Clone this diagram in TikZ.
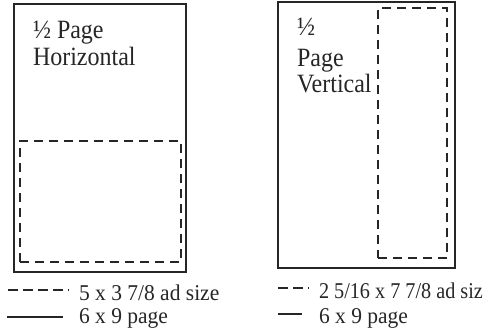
\documentclass[tikz,border=0pt]{standalone}
\usepackage{fontspec}
\setmainfont{Liberation Serif}
\usetikzlibrary{positioning}

\begin{document}
\begin{tikzpicture}[x=1pt, y=-1pt, every node/.style={inner sep=0pt, outer sep=0pt, text=black!85}]
    \tikzset{
        pagebox/.style={draw=black!85, line width=1.7pt, rectangle},
        adbox/.style={draw=black!85, line width=2.6pt, dash pattern=on 9pt off 6pt, rectangle},
        adline/.style={draw=black!85, line width=2.2pt, dash pattern=on 10pt off 5pt},
        pageline/.style={draw=black!85, line width=1.5pt},
        title/.style={anchor=base west, font=\fontsize{24}{28}\selectfont},
        key/.style={anchor=base west, font=\fontsize{21.5}{26}\selectfont}
    }
    \useasboundingbox (0,0) rectangle (485,332);

    % Half page horizontal
    \node[pagebox, minimum width=172pt, minimum height=268pt] (hpage) at (100,138) {};
    \node[adbox, minimum width=161pt, minimum height=121pt] (hadd) at (100.5,201.5) {};
    \node[title] (htitle) at (33,38) {\scalebox{1}[1.1]{½ Page}};
    \node[title] (htitleb) at (33,65) {\scalebox{1}[1.1]{Horizontal}};

    % Half page vertical
    \node[pagebox, minimum width=177pt, minimum height=266pt] (vpage) at (366.5,135) {};
    \node[adbox, minimum width=69pt, minimum height=250pt] (vadd) at (412.5,133) {};
    \node[title] (vtitle) at (297,35) {\scalebox{1}[1.1]{½}};
    \node[title] (vtitleb) at (297,66) {\scalebox{1}[1.1]{Page}};
    \node[title] (vtitlec) at (297,92) {\scalebox{1}[1.1]{Vertical}};

    % Keys
    \coordinate (hkeya) at (8,290);
    \coordinate (hkeyb) at (69,290);
    \draw[adline] (hkeya) -- (hkeyb);
    \node[key] (hkeytext) at (79,300) {\scalebox{1}[1.05]{5 x 3 7/8 ad size}};
    \coordinate (hkeyc) at (7,317);
    \coordinate (hkeyd) at (63,317);
    \draw[pageline] (hkeyc) -- (hkeyd);
    \node[key] (hkeytextb) at (79,323) {\scalebox{1}[1.05]{6 x 9 page}};

    \coordinate (vkeya) at (278,288);
    \coordinate (vkeyb) at (309,288);
    \draw[adline] (vkeya) -- (vkeyb);
    \node[key] (vkeytext) at (319,298) {\scalebox{0.94}[1.05]{2 5/16 x 7 7/8 ad siz}};
    \coordinate (vkeyc) at (278,314);
    \coordinate (vkeyd) at (302,314);
    \draw[pageline] (vkeyc) -- (vkeyd);
    \node[key] (vkeytextb) at (319,323) {\scalebox{1}[1.05]{6 x 9 page}};
\end{tikzpicture}
\end{document}
